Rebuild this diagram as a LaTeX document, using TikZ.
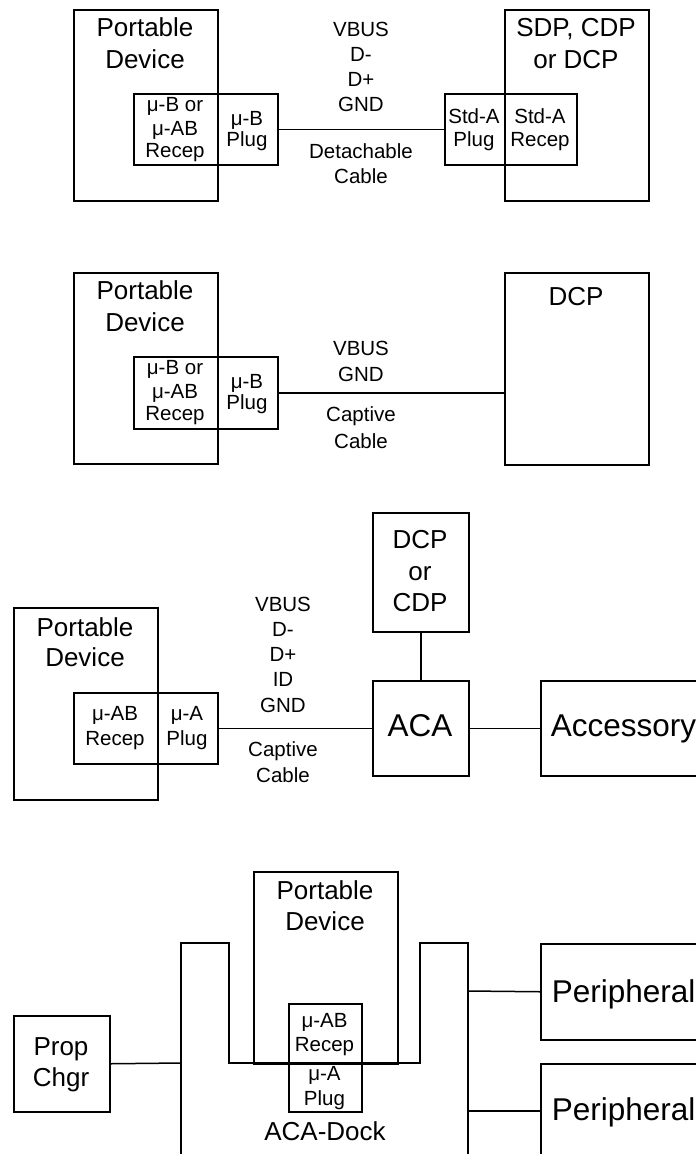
\documentclass[tikz,border=0pt]{standalone}
\usepackage{fontspec}
\setmainfont{Liberation Sans}
\begin{document}
\begin{tikzpicture}[x=1pt,y=-1pt,
  box/.style={draw, line width=1.5pt, inner sep=0pt, anchor=north west},
  wire/.style={line width=1.5pt},
  txt/.style={inner sep=0pt, anchor=base},
  big/.style={txt, font=\fontsize{26}{31}\selectfont},
  sml/.style={txt, font=\fontsize{20.5}{24}\selectfont},
  huge/.style={txt, font=\fontsize{31.5}{36}\selectfont}]
\useasboundingbox (0,0) rectangle (696,1154);
\clip (0,0) rectangle (696,1154);
\newcommand{\bx}[5]{\pgfmathsetmacro{\bw}{#4-#2}\pgfmathsetmacro{\bh}{#5-#3}%
  \node[box, minimum width=\bw pt, minimum height=\bh pt] (#1) at (#2,#3) {};}
% ---------- diagram 1 ----------
\bx{pd1}{73}{9}{217}{200}
\bx{rc1}{133}{93}{217}{164}
\bx{pl1}{217}{93}{277}{164}
\bx{sa1}{444}{93}{504}{164}
\bx{sr1}{504}{93}{576}{164}
\bx{sdp}{504}{9}{648}{200}
\draw[wire] (pl1.east) -- (sa1.west);
\node[big] (t1a) at (145,36.7) {Portable};
\node[big] (t1b) at (145,68.3) {Device};
\node[sml] (t1c) at (175,111.7) {μ-B or};
\node[sml] (t1d) at (175,135) {μ-AB};
\node[sml] (t1e) at (175,157) {Recep};
\node[sml] (t1f) at (247,125) {μ-B};
\node[sml] (t1g) at (247,146.7) {Plug};
\node[sml] (t1h) at (361,36.7) {VBUS};
\node[sml] (t1i) at (361,61.7) {D-};
\node[sml] (t1j) at (361,86.7) {D+};
\node[sml] (t1k) at (361,111.7) {GND};
\node[sml] (t1l) at (361,158.3) {Detachable};
\node[sml] (t1m) at (361,183.3) {Cable};
\node[big] (t1n) at (576,36.7) {SDP, CDP};
\node[big] (t1o) at (576,68.3) {or DCP};
\node[sml] (t1p) at (474,123.3) {Std-A};
\node[sml] (t1q) at (474,146.7) {Plug};
\node[sml] (t1r) at (540,123.3) {Std-A};
\node[sml] (t1s) at (540,146.7) {Recep};
% ---------- diagram 2 ----------
\bx{pd2}{73}{272}{217}{463}
\bx{rc2}{133}{356}{217}{428}
\bx{pl2}{217}{356}{277}{428}
\bx{dcp2}{504}{272}{648}{464}
\draw[wire] (pl2.east) -- (dcp2.west |- pl2.east);
\node[big] (t2a) at (145,299.7) {Portable};
\node[big] (t2b) at (145,331.3) {Device};
\node[sml] (t2c) at (175,374.7) {μ-B or};
\node[sml] (t2d) at (175,398) {μ-AB};
\node[sml] (t2e) at (175,420) {Recep};
\node[sml] (t2f) at (247,388) {μ-B};
\node[sml] (t2g) at (247,409.7) {Plug};
\node[sml] (t2h) at (361,355) {VBUS};
\node[sml] (t2i) at (361,381.7) {GND};
\node[sml] (t2j) at (361,421.7) {Captive};
\node[sml] (t2k) at (361,448.3) {Cable};
\node[big] (t2l) at (576,305) {DCP};
% ---------- diagram 3 ----------
\bx{pd3}{13}{607}{157}{799}
\bx{rc3}{73}{692}{157}{763}
\bx{pl3}{157}{692}{217}{763}
\bx{dcp3}{372}{512}{468}{631}
\bx{aca}{372}{680}{468}{775}
\bx{acc}{540}{680}{740}{775}
\draw[wire] (pl3.east) -- (aca.west);
\draw[wire] (dcp3.south) -- (aca.north);
\draw[wire] (aca.east) -- (acc.west |- aca.east);
\node[big] (t3a) at (85,636) {Portable};
\node[big] (t3b) at (85,666.7) {Device};
\node[sml] (t3c) at (115,720) {μ-AB};
\node[sml] (t3d) at (115,745) {Recep};
\node[sml] (t3e) at (187,720) {μ-A};
\node[sml] (t3f) at (187,745) {Plug};
\node[sml] (t3g) at (283,611) {VBUS};
\node[sml] (t3h) at (283,636.7) {D-};
\node[sml] (t3i) at (283,661.7) {D+};
\node[sml] (t3j) at (283,686.7) {ID};
\node[sml] (t3k) at (283,712.3) {GND};
\node[sml] (t3l) at (283,756.7) {Captive};
\node[sml] (t3m) at (283,782.7) {Cable};
\node[big] (t3n) at (420,548.3) {DCP};
\node[big] (t3o) at (420,580) {or};
\node[big] (t3p) at (420,611.7) {CDP};
\node[huge] (t3q) at (420,736.7) {ACA};
\node[huge, anchor=base west] (t3r) at (550.7,736.7) {Accessory};
% ---------- diagram 4 ----------
\bx{prop}{13}{1015}{109}{1111}
\bx{pd4}{253}{871}{397}{1063}
\bx{rc4}{288}{1003}{361}{1063}
\bx{pl4}{288}{1063}{361}{1111}
\bx{per1}{540}{943}{740}{1039}
\bx{per2}{540}{1063}{740}{1159}
\coordinate (dL) at (181,1063);
\coordinate (dR1) at (468,991);
\coordinate (dR2) at (468,1111);
\draw[wire, line join=miter] (181,1165) -- (181,943) -- (229,943) -- (229,1063)
  -- (420,1063) -- (420,943) -- (468,943) -- (468,1165);
\draw[wire] (prop.east) -- (dL);
\draw[wire] (dR1) -- (per1.west);
\draw[wire] (dR2) -- (per2.west |- dR2);
\node[big] (t4a) at (325,899) {Portable};
\node[big] (t4b) at (325,930.7) {Device};
\node[sml] (t4c) at (324.5,1027) {μ-AB};
\node[sml] (t4d) at (324.5,1051.7) {Recep};
\node[sml] (t4e) at (324.5,1080.7) {μ-A};
\node[sml] (t4f) at (324.5,1105.7) {Plug};
\node[big] (t4g) at (325,1140) {ACA-Dock};
\node[big] (t4h) at (61,1055) {Prop};
\node[big] (t4i) at (61,1086.7) {Chgr};
\node[huge, anchor=base west] (t4j) at (551.7,1002) {Peripheral};
\node[huge, anchor=base west] (t4k) at (551.7,1120) {Peripheral};
\end{tikzpicture}
\end{document}
